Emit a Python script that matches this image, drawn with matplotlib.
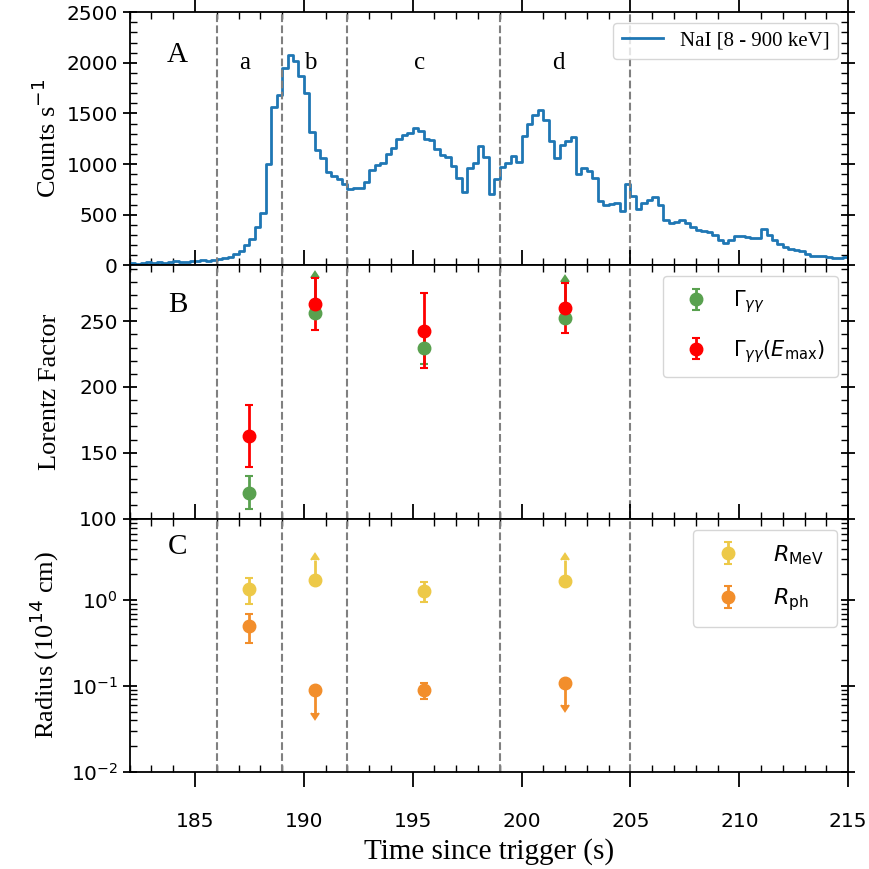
import numpy as np
import matplotlib.pyplot as plt
from matplotlib.ticker import MultipleLocator, LogLocator, NullFormatter

# light curve (0.25 s bins starting at 182 s)
t_start = 182.0
bin_width = 0.25
counts = [20, 15, 25, 30, 20, 35, 25, 30, 40, 35, 30, 45, 40, 50, 45, 55,
          60, 70, 85, 110, 140, 200, 260, 380, 520, 1000, 1560, 1680, 1950, 2080, 2020, 1870,
          1700, 1320, 1140, 1060, 920, 880, 850, 800, 750, 760, 760, 820, 940, 990, 1010, 1100,
          1160, 1250, 1290, 1310, 1360, 1330, 1250, 1240, 1150, 1090, 1070, 980, 860, 720, 960, 1010,
          1180, 1070, 700, 850, 970, 1010, 1080, 1020, 1280, 1400, 1480, 1530, 1440, 1230, 1060, 1190,
          1230, 1270, 900, 960, 930, 860, 640, 600, 610, 620, 540, 800, 680, 560, 620, 650,
          670, 600, 450, 420, 430, 450, 420, 380, 350, 340, 330, 300, 250, 225, 250, 285,
          290, 280, 270, 265, 360, 300, 250, 210, 180, 165, 155, 140, 110, 95, 92, 90,
          80, 75, 72, 80]

boundaries = [186, 189, 192, 199, 205]
interval_names = ['a', 'b', 'c', 'd']
interval_mid = [187.3, 190.3, 195.3, 201.7]

t_mid = [187.5, 190.5, 195.5, 202.0]

# Lorentz factor
g_yy = [119.5, 256.0, 229.5, 252.5]
g_yy_lo = [12.5, 0.0, 12.0, 0.0]
g_yy_hi = [12.5, 27.0, 12.0, 27.0]
g_yy_lim = [False, True, False, True]

g_emax = [163.0, 263.0, 242.7, 260.0]
g_emax_lo = [23.5, 19.7, 28.5, 19.3]
g_emax_hi = [23.6, 19.7, 28.5, 18.7]

# radii (1e14 cm)
r_mev = [1.34, 1.71, 1.29, 1.67]
r_mev_lo = [0.44, 0.0, 0.34, 0.0]
r_mev_hi = [0.46, 1.25, 0.36, 1.25]
r_mev_lim = [False, True, False, True]

r_ph = [0.50, 0.089, 0.089, 0.108]
r_ph_lo = [0.18, 0.04, 0.019, 0.048]
r_ph_hi = [0.19, 0.0, 0.02, 0.0]
r_ph_lim = [False, True, False, True]

serif = 'Liberation Serif'

fig, axes = plt.subplots(3, 1, sharex=True, figsize=(8.7, 8.69), dpi=100)
fig.subplots_adjust(left=0.149, right=0.975, top=0.986, bottom=0.112, hspace=0)
ax1, ax2, ax3 = axes

# panel A
t = t_start + bin_width * np.arange(len(counts) + 1)
ax1.step(t, list(counts) + [counts[-1]], where='post', color='#1f77b4', lw=2,
         label='NaI [8 - 900 keV]')
ax1.set_ylim(0, 2500)
ax1.set_ylabel(r'Counts s$^{-1}$', fontsize=19, family=serif)
ax1.yaxis.set_major_locator(MultipleLocator(500))
ax1.yaxis.set_minor_locator(MultipleLocator(100))
for name, xm in zip(interval_names, interval_mid):
    ax1.text(xm, 2000, name, fontsize=18, family=serif, ha='center', va='center')
ax1.text(184.2, 2080, 'A', fontsize=21, family=serif, ha='center', va='center')
ax1.legend(loc='upper right', prop={'family': serif, 'size': 15})

# panel B
ax2.errorbar(t_mid, g_yy, yerr=[g_yy_lo, g_yy_hi], lolims=g_yy_lim, fmt='o',
             color='#59A14F', ms=9, elinewidth=2, capsize=3, capthick=1.5,
             label=r'$\Gamma_{\gamma\gamma}$')
ax2.errorbar(t_mid, g_emax, yerr=[g_emax_lo, g_emax_hi], fmt='o', color='red',
             ms=9, elinewidth=2, capsize=3, capthick=1.5,
             label=r'$\Gamma_{\gamma\gamma}(E_{\rm max})$')
ax2.set_ylim(100, 292.5)
ax2.yaxis.set_major_locator(MultipleLocator(50))
ax2.yaxis.set_minor_locator(MultipleLocator(10))
ax2.set_ylabel('Lorentz Factor', fontsize=19, family=serif)
ax2.text(184.2, 262, 'B', fontsize=21, family=serif, ha='center', va='center')
ax2.legend(loc='upper right', fontsize=15, borderpad=0.6, labelspacing=1.1,
           handletextpad=0.8)

# panel C
ax3.errorbar(t_mid, r_mev, yerr=[r_mev_lo, r_mev_hi], lolims=r_mev_lim, fmt='o',
             color='#EDC948', ms=9, elinewidth=2, capsize=3, capthick=1.5,
             label=r'$R_{\rm MeV}$')
ax3.errorbar(t_mid, r_ph, yerr=[r_ph_lo, r_ph_hi], uplims=r_ph_lim, fmt='o',
             color='#F28E2B', ms=9, elinewidth=2, capsize=3, capthick=1.5,
             label=r'$R_{\rm ph}$')
ax3.set_yscale('log')
ax3.set_ylim(1e-2, 9)
ax3.yaxis.set_major_locator(LogLocator(base=10, numticks=10))
ax3.yaxis.set_minor_locator(LogLocator(base=10, subs=np.arange(2, 10), numticks=20))
ax3.yaxis.set_minor_formatter(NullFormatter())
ax3.set_ylabel(r'Radius (10$^{14}$ cm)', fontsize=19, family=serif)
ax3.text(184.2, 4.2, 'C', fontsize=21, family=serif, ha='center', va='center')
ax3.legend(loc='upper right', fontsize=16, borderpad=0.6, labelspacing=0.9,
           handletextpad=1.0)
ax3.set_xlabel('Time since trigger (s)', fontsize=21, family=serif, labelpad=5)

ax3.set_xlim(182, 215)
ax3.xaxis.set_major_locator(MultipleLocator(5))
ax3.xaxis.set_minor_locator(MultipleLocator(1))

for ax in axes:
    for b in boundaries:
        ax.axvline(b, color='gray', ls='--', lw=1.5)
    ax.tick_params(which='both', top=True, right=True, labelsize=14.5)
    ax.tick_params(axis='y', which='major', direction='inout', length=10, width=1.3)
    ax.tick_params(axis='x', which='major', direction='out', length=11, width=1.3, pad=18)
    ax.tick_params(which='minor', direction='in', length=5, width=1)
    for s in ax.spines.values():
        s.set_linewidth(1.3)

fig.align_ylabels(axes)
fig.savefig('out.png', dpi=100)
